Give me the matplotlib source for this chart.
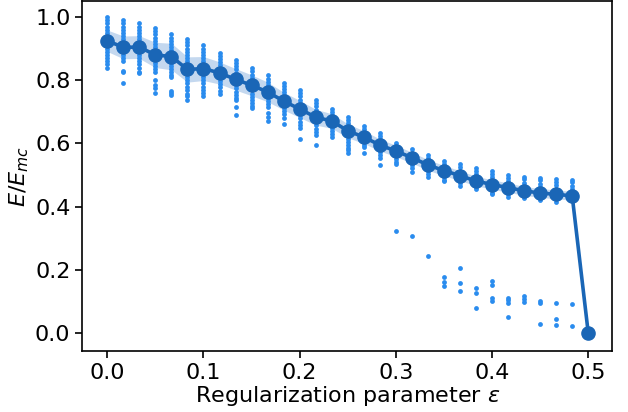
import matplotlib
matplotlib.use("Agg")
import matplotlib.pyplot as plt
import numpy as np

# regularization parameter grid
eps = [0.0, 0.0167, 0.0333, 0.05, 0.0667, 0.0833, 0.1, 0.1167, 0.1333, 0.15,
       0.1667, 0.1833, 0.2, 0.2167, 0.2333, 0.25, 0.2667, 0.2833, 0.3, 0.3167,
       0.3333, 0.35, 0.3667, 0.3833, 0.4, 0.4167, 0.4333, 0.45, 0.4667, 0.4833, 0.5]

# mean E/E_mc and spread (band half-width)
mean_ratio = [0.925, 0.904, 0.905, 0.880, 0.875, 0.834, 0.837, 0.823, 0.803, 0.784,
              0.763, 0.734, 0.709, 0.683, 0.671, 0.640, 0.620, 0.595, 0.576, 0.555,
              0.532, 0.514, 0.498, 0.481, 0.470, 0.460, 0.450, 0.443, 0.439, 0.434, 0.0]
std_ratio = [0.034, 0.036, 0.036, 0.040, 0.042, 0.040, 0.038, 0.035, 0.034, 0.033,
             0.031, 0.028, 0.027, 0.025, 0.023, 0.022, 0.020, 0.019, 0.018, 0.017,
             0.017, 0.016, 0.016, 0.015, 0.015, 0.015, 0.014, 0.014, 0.014, 0.014, 0.0]

# individual runs, one list per epsilon value
runs = [
    [1.00, 0.99, 0.98, 0.97, 0.96, 0.95, 0.94, 0.93, 0.92, 0.91, 0.90, 0.89, 0.88, 0.87, 0.86, 0.85, 0.84],
    [0.99, 0.98, 0.97, 0.96, 0.95, 0.94, 0.93, 0.92, 0.91, 0.90, 0.89, 0.88, 0.87, 0.86, 0.83, 0.825, 0.79],
    [0.98, 0.97, 0.96, 0.95, 0.94, 0.93, 0.92, 0.91, 0.90, 0.89, 0.88, 0.87, 0.86, 0.85, 0.838, 0.827, 0.822],
    [0.964, 0.955, 0.945, 0.935, 0.925, 0.915, 0.905, 0.895, 0.885, 0.875, 0.865, 0.855, 0.845, 0.835, 0.825, 0.80, 0.785, 0.774, 0.76],
    [0.945, 0.935, 0.925, 0.915, 0.905, 0.895, 0.885, 0.875, 0.865, 0.855, 0.845, 0.835, 0.825, 0.815, 0.81, 0.766, 0.76, 0.753],
    [0.93, 0.92, 0.91, 0.90, 0.89, 0.88, 0.87, 0.86, 0.85, 0.84, 0.83, 0.82, 0.81, 0.80, 0.79, 0.78, 0.77, 0.758, 0.75, 0.737],
    [0.912, 0.90, 0.89, 0.88, 0.87, 0.86, 0.85, 0.84, 0.83, 0.82, 0.81, 0.80, 0.79, 0.78, 0.77, 0.76, 0.75],
    [0.887, 0.877, 0.867, 0.857, 0.847, 0.837, 0.827, 0.817, 0.807, 0.797, 0.787, 0.777, 0.767, 0.758],
    [0.864, 0.854, 0.844, 0.834, 0.824, 0.814, 0.804, 0.794, 0.784, 0.774, 0.764, 0.754, 0.744, 0.737, 0.714, 0.689],
    [0.838, 0.828, 0.818, 0.808, 0.798, 0.788, 0.778, 0.768, 0.758, 0.748, 0.738, 0.728, 0.718, 0.711],
    [0.815, 0.805, 0.795, 0.785, 0.775, 0.765, 0.755, 0.745, 0.735, 0.725, 0.716, 0.695, 0.684, 0.672],
    [0.792, 0.782, 0.772, 0.762, 0.752, 0.742, 0.732, 0.722, 0.712, 0.702, 0.692, 0.679, 0.663],
    [0.769, 0.759, 0.749, 0.739, 0.729, 0.719, 0.709, 0.699, 0.689, 0.679, 0.669, 0.659, 0.648, 0.615],
    [0.737, 0.727, 0.717, 0.707, 0.697, 0.687, 0.677, 0.667, 0.657, 0.647, 0.637, 0.627, 0.595],
    [0.710, 0.700, 0.690, 0.680, 0.670, 0.660, 0.650, 0.640, 0.630, 0.621],
    [0.685, 0.675, 0.665, 0.655, 0.645, 0.635, 0.625, 0.615, 0.605, 0.595, 0.585, 0.579, 0.571],
    [0.655, 0.645, 0.635, 0.625, 0.615, 0.605, 0.595, 0.590, 0.571],
    [0.634, 0.624, 0.614, 0.604, 0.594, 0.584, 0.574, 0.564, 0.555, 0.532],
    [0.602, 0.592, 0.582, 0.572, 0.562, 0.552, 0.542, 0.535, 0.323],
    [0.581, 0.571, 0.561, 0.551, 0.541, 0.531, 0.521, 0.510, 0.307],
    [0.563, 0.553, 0.543, 0.533, 0.523, 0.513, 0.503, 0.495, 0.244],
    [0.545, 0.535, 0.525, 0.515, 0.505, 0.495, 0.485, 0.480, 0.177, 0.162, 0.150],
    [0.534, 0.524, 0.514, 0.504, 0.494, 0.484, 0.474, 0.465, 0.207, 0.159, 0.134],
    [0.523, 0.513, 0.503, 0.493, 0.483, 0.473, 0.463, 0.455, 0.142, 0.127, 0.078],
    [0.513, 0.503, 0.493, 0.483, 0.473, 0.463, 0.453, 0.443, 0.440, 0.164, 0.151, 0.112, 0.101],
    [0.501, 0.491, 0.481, 0.471, 0.461, 0.451, 0.441, 0.430, 0.110, 0.104, 0.096, 0.050],
    [0.495, 0.488, 0.476, 0.466, 0.456, 0.446, 0.436, 0.426, 0.116, 0.108, 0.099],
    [0.491, 0.484, 0.472, 0.462, 0.452, 0.442, 0.432, 0.420, 0.101, 0.094, 0.028],
    [0.486, 0.479, 0.467, 0.457, 0.447, 0.437, 0.427, 0.416, 0.094, 0.045, 0.025],
    [0.484, 0.477, 0.466, 0.456, 0.446, 0.436, 0.426, 0.420, 0.092, 0.022],
    [],
]

MEAN_COLOR = "#1a66b6"
DOT_COLOR = "#2a8cee"

fig = plt.figure(figsize=(6.28, 4.12), dpi=100)
ax = fig.add_axes([0.131, 0.148, 0.844, 0.849])

xs = [e for e, r in zip(eps, runs) for _ in r]
ys = [v for r in runs for v in r]
ax.scatter(xs, ys, s=12, color=DOT_COLOR, linewidths=0, zorder=2)

m = np.array(mean_ratio)
s = np.array(std_ratio)
ax.fill_between(eps, m - s, m + s, color="#1565c0", alpha=0.25, lw=0, zorder=1)
ax.plot(eps, mean_ratio, "-o", color=MEAN_COLOR, lw=2.6, ms=9.5, zorder=3)

ax.set_xlim(-0.026, 0.525)
ax.set_ylim(-0.057, 1.05)
ax.set_xticks([0.0, 0.1, 0.2, 0.3, 0.4, 0.5])
ax.set_yticks([0.0, 0.2, 0.4, 0.6, 0.8, 1.0])
ax.tick_params(labelsize=16, length=5, width=1.2)
for sp in ax.spines.values():
    sp.set_linewidth(1.2)

ax.set_xlabel(r"Regularization parameter $\varepsilon$", fontsize=16, labelpad=1)
ax.set_ylabel(r"$E/E_{mc}$", fontsize=16, labelpad=3)

fig.savefig("out.png", dpi=100)
